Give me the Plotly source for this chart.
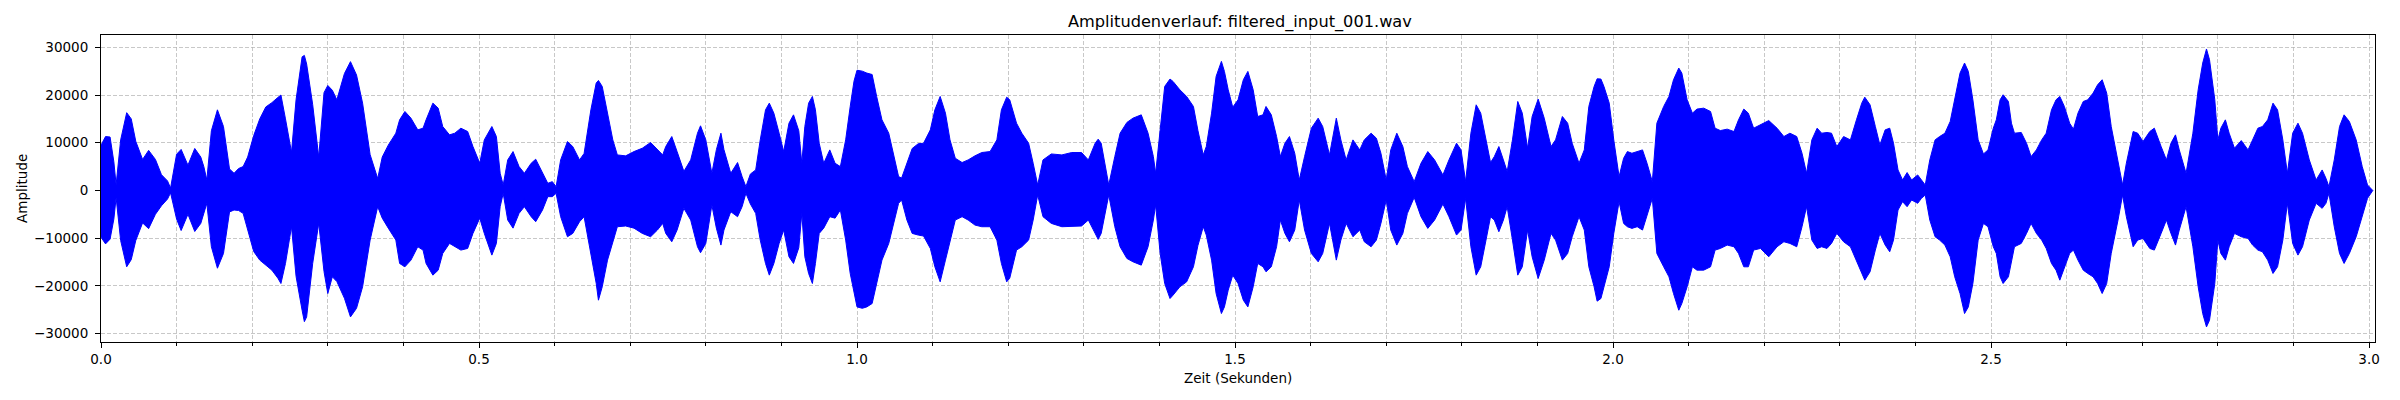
import plotly.graph_objects as go

# Envelope of the waveform
# zeit in seconds, oben = upper envelope, unten = lower envelope (sample amplitude)
zeit = [
    0.000, 0.006, 0.012, 0.017, 0.020, 0.026, 0.034, 0.040, 0.046, 0.055,
    0.063, 0.072, 0.080, 0.088, 0.092, 0.100, 0.106, 0.115, 0.124, 0.132,
    0.136, 0.140, 0.146, 0.154, 0.162, 0.170, 0.176, 0.182, 0.188, 0.194,
    0.202, 0.210, 0.218, 0.226, 0.234, 0.238, 0.244, 0.252, 0.258, 0.266,
    0.269, 0.272, 0.280, 0.288, 0.295, 0.300, 0.306, 0.312, 0.322, 0.330,
    0.338, 0.346, 0.356, 0.366, 0.372, 0.380, 0.390,
    0.395, 0.402, 0.410, 0.419, 0.426, 0.430, 0.439, 0.446, 0.452, 0.461,
    0.468, 0.476, 0.485, 0.492, 0.501, 0.507, 0.517, 0.523, 0.528, 0.532,
    0.538, 0.545, 0.553, 0.560, 0.569, 0.575, 0.584, 0.591, 0.597, 0.602,
    0.608, 0.617, 0.624, 0.633, 0.639, 0.648, 0.655, 0.658, 0.663, 0.670,
    0.677, 0.683, 0.694, 0.705, 0.716, 0.727, 0.736, 0.743, 0.747, 0.755,
    0.762, 0.771, 0.780, 0.789, 0.793, 0.800, 0.808, 0.814, 0.820, 0.824,
    0.833, 0.842, 0.848, 0.853, 0.859, 0.866, 0.872, 0.879, 0.884, 0.890,
    0.897, 0.903, 0.910, 0.916, 0.923,
    0.927, 0.931, 0.936, 0.941, 0.945, 0.950, 0.956, 0.964, 0.971, 0.978,
    0.985, 0.991, 0.996, 1.000, 1.007, 1.013, 1.020, 1.026, 1.033, 1.042,
    1.048, 1.055, 1.059, 1.066, 1.073, 1.081, 1.088, 1.097, 1.103, 1.110,
    1.117, 1.123, 1.130, 1.139, 1.147, 1.156, 1.165, 1.176, 1.185, 1.191,
    1.198, 1.202, 1.211, 1.218, 1.227, 1.233, 1.239, 1.246, 1.257, 1.271,
    1.284, 1.297, 1.306, 1.315, 1.319, 1.323, 1.333, 1.341, 1.348, 1.357,
    1.365, 1.376, 1.385, 1.392, 1.395, 1.401, 1.407, 1.414, 1.418, 1.427,
    1.436, 1.445, 1.451,
    1.458, 1.462, 1.469, 1.475, 1.482, 1.486, 1.491, 1.497, 1.504, 1.511,
    1.517, 1.524, 1.530, 1.537, 1.541, 1.548, 1.555, 1.560, 1.566, 1.572,
    1.579, 1.585, 1.592, 1.601, 1.610, 1.616, 1.625, 1.634, 1.640, 1.647,
    1.656, 1.665, 1.671, 1.680, 1.687, 1.693, 1.700, 1.706, 1.714, 1.722,
    1.728, 1.737, 1.746, 1.755, 1.764, 1.775, 1.783, 1.793, 1.799, 1.805,
    1.812, 1.819, 1.825, 1.832, 1.838, 1.843, 1.849, 1.855, 1.860, 1.867,
    1.874, 1.880, 1.887, 1.893, 1.901, 1.909, 1.918, 1.924, 1.933, 1.940,
    1.946, 1.955, 1.962, 1.968, 1.975, 1.979,
    1.984, 1.988, 1.995, 2.001, 2.008, 2.014, 2.019, 2.025, 2.032, 2.039,
    2.045, 2.052, 2.058, 2.067, 2.074, 2.080, 2.087, 2.091, 2.098, 2.105,
    2.111, 2.120, 2.129, 2.135, 2.142, 2.151, 2.160, 2.166, 2.173, 2.179,
    2.186, 2.195, 2.206, 2.217, 2.226, 2.234, 2.243, 2.250, 2.256, 2.263,
    2.270, 2.276, 2.283, 2.289, 2.296, 2.305, 2.314, 2.322, 2.329, 2.333,
    2.340, 2.347, 2.353, 2.360, 2.366, 2.371, 2.377, 2.383, 2.389, 2.395,
    2.403, 2.408, 2.413, 2.419, 2.426, 2.432, 2.439, 2.446, 2.452, 2.459,
    2.465, 2.470, 2.476, 2.483, 2.490, 2.496, 2.503, 2.507,
    2.512, 2.516, 2.523, 2.527, 2.531, 2.540, 2.547, 2.553, 2.560, 2.567,
    2.573, 2.580, 2.586, 2.591, 2.597, 2.604, 2.609, 2.615, 2.622, 2.628,
    2.635, 2.641, 2.647, 2.653, 2.659, 2.668, 2.674, 2.679, 2.688, 2.694,
    2.701, 2.710, 2.716, 2.725, 2.732, 2.738, 2.744, 2.749, 2.758, 2.767,
    2.774, 2.780, 2.785, 2.789, 2.796, 2.800, 2.804, 2.810, 2.815, 2.822,
    2.831, 2.840, 2.846, 2.853, 2.859, 2.866, 2.873, 2.879, 2.886, 2.892,
    2.899, 2.906, 2.912, 2.921, 2.930, 2.938, 2.943, 2.947, 2.954, 2.961,
    2.967, 2.974, 2.983, 2.991, 2.998, 3.005,
]
oben = [
    9500, 11300, 11200, 6000, 1200, 10600, 16300, 15000, 10300, 6500,
    8400, 6500, 3300, 2000, 500, 7600, 8600, 5300, 8800, 7000,
    5000, 2200, 12500, 16900, 13400, 4500, 3600, 4600, 5000, 7000,
    11500, 15000, 17500, 18400, 19500, 20000, 15000, 8000, 19000, 28000,
    28300, 26500, 18000, 7000, 20500, 22000, 21000, 19000, 24500, 27000,
    24200, 18300, 7500, 2500, 7000, 9500, 12000,
    14800, 16550, 15150, 12700, 13050, 14800, 18300, 17250, 13400, 11650,
    12000, 13050, 12350, 9200, 5700, 10600, 13400, 11300, 3600, 1150,
    6400, 8150, 5000, 3600, 5700, 6550, 3600, 1500, 1850, 800,
    6400, 10250, 9200, 6400, 7750, 16900, 22500, 23050, 21800, 16200,
    10600, 7450, 7250, 8150, 8850, 10050, 8550, 7450, 9200, 11300,
    8150, 4000, 6400, 12000, 13550, 10600, 3600, 8550, 12000, 8550,
    3600, 5850, 2900, 800, 3450, 4300, 10600, 16900, 18300, 16200,
    12000, 8150, 14100, 15850, 12500,
    5700, 13400, 18300, 19700, 16900, 9900, 5700, 8500, 5700, 5000,
    10600, 17600, 22900, 25200, 25000, 24600, 24300, 19700, 14800, 12000,
    7800, 2900, 2600, 5700, 8800, 9800, 9900, 12700, 16900, 19700,
    16200, 10600, 6750, 5850, 6400, 7250, 7950, 8150, 10600, 16900,
    19550, 19000, 14100, 12000, 9900, 5700, 1150, 6400, 7650, 7450,
    7950, 7950, 6400, 9900, 10750, 9900, 1150, 7100, 12000, 14250,
    15150, 15850, 12000, 7100, 3600, 12700, 21800, 23350, 22850, 21100,
    19700, 17600, 12500,
    7450, 9200, 16200, 23900, 27050, 24950, 21100, 17450, 19000, 23200,
    24950, 21100, 15500, 15850, 17600, 15850, 11300, 7100, 9900, 11300,
    7800, 2200, 7100, 13050, 15150, 13400, 7450, 15150, 10600, 6400,
    10600, 8500, 10600, 12000, 10950, 7800, 2200, 8500, 12000, 9200,
    5000, 1850, 5700, 8150, 6400, 3250, 6400, 9900, 8500, 1850,
    12000, 17950, 16200, 10600, 5850, 7100, 9200, 6400, 3950, 10600,
    18650, 16200, 8850, 15500, 19150, 15150, 9200, 10600, 15500, 14100,
    9900, 5700, 8500, 17600, 21800, 23400,
    23350, 21800, 18300, 10600, 2900, 6750, 8150, 7800, 8150, 8500,
    5700, 1850, 14100, 17600, 19700, 23200, 25650, 24600, 19000, 16200,
    17050, 17250, 16550, 13050, 12550, 12850, 12350, 14800, 17050, 16200,
    13050, 13750, 14650, 13050, 11300, 12000, 11300, 7800, 3600, 10600,
    13050, 12000, 12150, 12000, 9200, 11300, 10600, 14800, 18300, 19550,
    17950, 13400, 9550, 12700, 13050, 9900, 4300, 2200, 3750, 2200,
    3250, 2200, 1150, 6400, 10600, 11300, 12000, 14450, 19000, 24600,
    26700, 24950, 19000, 10600, 7650, 8500, 13050, 14800,
    19000, 20050, 18650, 14100, 12000, 12150, 9900, 7100, 8500, 10600,
    12000, 16900, 19000, 19700, 17600, 14100, 12850, 16200, 18650, 19000,
    20400, 22150, 23200, 20400, 13400, 6400, 1150, 5700, 12350, 12000,
    10250, 12350, 13050, 9200, 6400, 9900, 11650, 8500, 3600, 12000,
    21100, 26700, 29650, 27400, 19000, 10600, 13050, 14800, 12000, 8850,
    10450, 8500, 10600, 13050, 13400, 14800, 18300, 16900, 10600, 3600,
    12000, 14100, 12000, 6400, 2200, 4300, 2550, 800, 6400, 13400,
    15850, 14450, 10600, 5000, 1150, 100,
]
unten = [
    -9800, -11200, -10200, -6000, -1500, -10500, -16000, -14500, -10500, -6800,
    -8000, -5000, -3200, -1800, -500, -6000, -8400, -5000, -8600, -6900,
    -4800, -2700, -11800, -16300, -13200, -4500, -4100, -4200, -4800, -8300,
    -12800, -14600, -15600, -16700, -18400, -19500, -15300, -7600, -18000, -25100,
    -27500, -26500, -15300, -6900, -17000, -21600, -18100, -19100, -22600, -26500,
    -24700, -20200, -10400, -3400, -5800, -7900, -10400,
    -15300, -16000, -14600, -11800, -12500, -15300, -17750, -16700, -13200, -11100,
    -11800, -12500, -12150, -9000, -5800, -9000, -13550, -11100, -3400, -600,
    -6200, -7900, -4800, -3400, -5500, -6550, -4100, -1300, -1300, -600,
    -5500, -9700, -9000, -6550, -5500, -13200, -19450, -23000, -20200, -14600,
    -11100, -7600, -7450, -7900, -9000, -9700, -8300, -6900, -9000, -10750,
    -8300, -3750, -6200, -11800, -13050, -11100, -3050, -7900, -11450, -8300,
    -4450, -5500, -3400, -600, -2850, -4800, -10400, -15300, -17750, -15300,
    -11100, -8300, -13900, -15300, -12000,
    -4800, -13900, -17400, -19500, -15300, -9000, -7900, -5500, -5800, -4100,
    -10400, -17400, -21600, -24400, -24700, -24400, -23700, -19500, -14600, -11100,
    -7600, -2700, -2000, -6200, -9000, -9350, -9550, -12150, -16000, -19150,
    -14600, -10400, -6200, -5500, -6200, -7250, -7600, -7600, -10400, -15300,
    -19150, -18400, -12500, -11800, -10400, -6200, -950, -5500, -6900, -7600,
    -7600, -7450, -6200, -9000, -10250, -9000, -950, -7600, -11800, -14250,
    -14950, -15650, -11800, -6200, -3050, -13200, -19500, -22650, -21950, -20200,
    -19150, -16000, -11500,
    -7600, -9350, -14600, -21600, -25800, -24400, -20900, -17750, -19500, -23000,
    -24400, -20200, -15300, -16000, -17050, -16000, -11800, -6200, -9000, -10750,
    -8300, -2000, -8300, -13200, -14950, -13200, -6900, -14600, -10400, -6900,
    -9700, -8300, -10750, -11800, -10400, -6900, -2000, -8300, -11450, -9000,
    -4800, -1450, -5500, -7950, -6200, -2850, -5500, -9350, -8300, -1650,
    -11800, -17750, -16000, -10400, -5500, -6200, -8650, -6200, -3400, -10400,
    -17750, -16000, -8300, -13900, -18450, -14600, -9000, -10400, -14600, -13200,
    -9700, -5500, -8300, -16000, -20200, -23200,
    -22650, -20200, -16000, -9000, -2350, -6900, -7600, -7950, -7600, -8300,
    -5500, -1650, -13200, -16000, -18100, -21600, -25100, -23700, -20200, -16000,
    -16700, -16700, -16000, -12500, -12150, -11450, -11800, -13200, -16000, -16000,
    -12500, -12150, -13900, -11800, -10750, -11100, -11800, -7600, -3400, -10400,
    -12150, -11800, -12150, -11100, -9000, -10750, -11800, -14600, -17400, -18800,
    -17050, -12500, -9000, -11450, -12850, -10400, -4100, -2350, -3400, -2000,
    -2700, -1650, -950, -6200, -9700, -10400, -11450, -13900, -18100, -21600,
    -25800, -24400, -19500, -10400, -6900, -7600, -11800, -13200,
    -18100, -19500, -18100, -14600, -11800, -11100, -9000, -6900, -9000, -10400,
    -12150, -15300, -16700, -18800, -16000, -13200, -12500, -14600, -16700, -17400,
    -18100, -19500, -21600, -19500, -13200, -6200, -950, -5500, -11800, -10400,
    -10050, -12150, -12500, -9000, -6200, -9000, -11450, -8300, -3400, -11800,
    -20200, -25800, -28600, -27200, -19500, -10400, -13200, -14600, -11800, -9000,
    -9700, -10050, -11450, -12500, -12850, -14600, -17400, -16000, -10400, -2700,
    -11100, -13550, -11800, -6200, -2700, -3750, -2700, -600, -7600, -13200,
    -15300, -13200, -9700, -5500, -1650, 0,
]

y_ticks = [-30000, -20000, -10000, 0, 10000, 20000, 30000]
y_tick_text = ["−30000", "−20000", "−10000", "0", "10000", "20000", "30000"]

title_text = "Amplitudenverlauf: filtered_input_001.wav"
x_title = "Zeit (Sekunden)"
y_title = "Amplitude"

font_family = "DejaVu Sans"
grid_color = "rgba(176,176,176,0.7)"

# the page body adds 8px around the figure, so the figure is 16px smaller
fig_w, fig_h = 2384, 384

fig = go.Figure()

# waveform drawn as filled band between upper and lower envelope
fig.add_trace(go.Scatter(
    x=zeit + zeit[::-1],
    y=oben + unten[::-1],
    fill="toself",
    fillcolor="#0000ff",
    mode="lines",
    line=dict(color="#0000ff", width=1),
    hoverinfo="skip",
    showlegend=False,
))

axis_common = dict(
    showline=True, mirror=True, linecolor="black", linewidth=1.1,
    ticks="outside", ticklen=5, tickwidth=1.1, tickcolor="black",
    tickfont=dict(family=font_family, size=13.5, color="black"),
    showgrid=True, gridcolor=grid_color, gridwidth=1, griddash="4px,2px",
    zeroline=False,
)

fig.update_xaxes(
    range=[0, 3.0079],
    tick0=0, dtick=0.5, tickformat=".1f",
    minor=dict(dtick=0.1, tick0=0, ticks="outside", ticklen=3, tickwidth=1,
               tickcolor="black", showgrid=True, gridcolor=grid_color,
               gridwidth=1, griddash="4px,2px"),
    **axis_common,
)
fig.update_yaxes(
    range=[-31760, 32580],
    tickvals=y_ticks, ticktext=y_tick_text,
    ticklabelstandoff=4,
    **axis_common,
)

fig.update_layout(
    width=fig_w, height=fig_h,
    margin=dict(l=92.5, r=12.7, t=27, b=50.3),
    paper_bgcolor="white", plot_bgcolor="white",
    font=dict(family=font_family, size=13.5, color="black"),
    title=dict(text=title_text, x=(92.5 + 2278.8 / 2) / fig_w, xanchor="center",
               y=1 - 13.7 / fig_h, yanchor="middle",
               font=dict(family=font_family, size=16.2, color="black")),
    annotations=[
        dict(text=x_title, xref="paper", yref="paper", x=0.5, y=-0.118,
             xanchor="center", yanchor="middle", showarrow=False,
             font=dict(family=font_family, size=13.5, color="black")),
        dict(text=y_title, xref="paper", yref="paper", x=-0.035, y=0.5,
             xanchor="center", yanchor="middle", textangle=-90, showarrow=False,
             font=dict(family=font_family, size=13.5, color="black")),
    ],
)

fig.write_html("out.html")
